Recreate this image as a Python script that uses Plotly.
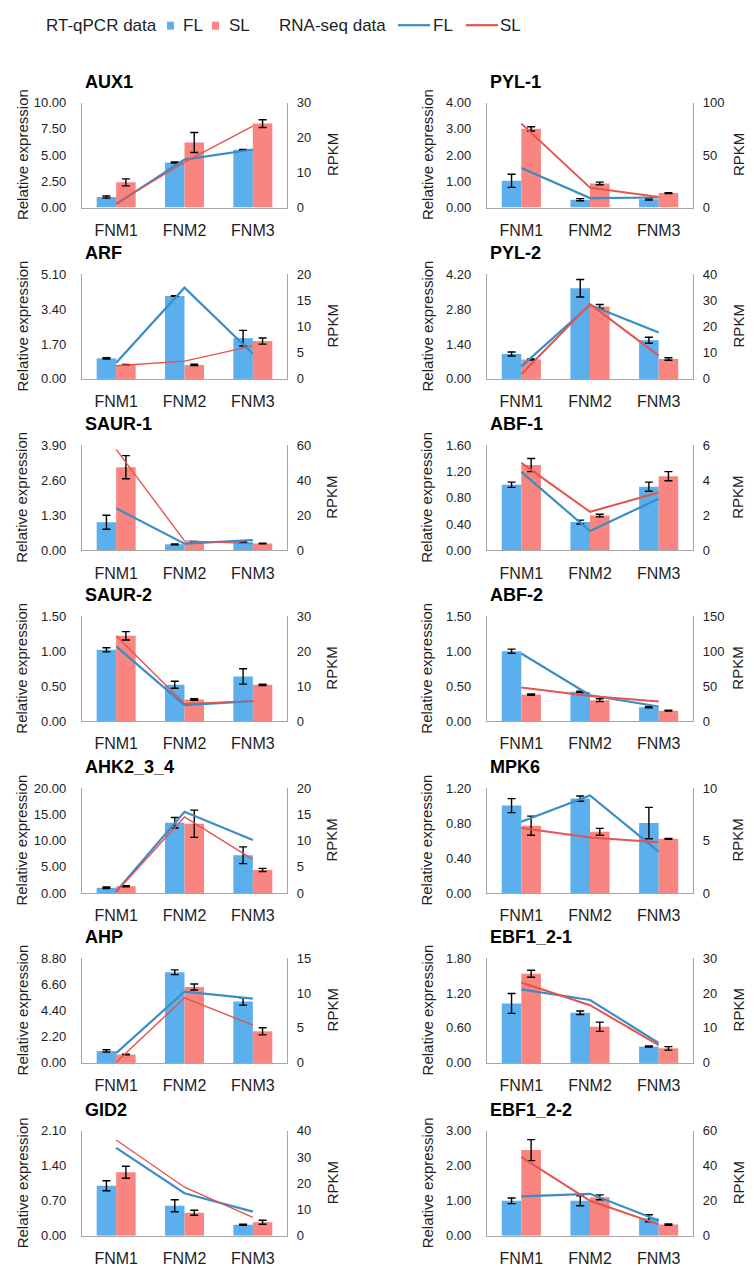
import plotly.graph_objects as go

W, H = 754, 1277

stages = ["FNM1", "FNM2", "FNM3"]
genes = ["AUX1", "PYL-1", "ARF", "PYL-2", "SAUR-1", "ABF-1", "SAUR-2", "ABF-2",
         "AHK2_3_4", "MPK6", "AHP", "EBF1_2-1", "GID2", "EBF1_2-2"]

# RT-qPCR relative expression (bars)
fl_expr = [[1.0, 4.3, 5.5], [1.02, 0.3, 0.32], [1.0, 4.03, 1.98], [1.0, 3.63, 1.55],
           [1.04, 0.22, 0.3], [1.0, 0.43, 0.97], [1.02, 0.52, 0.64], [1.0, 0.42, 0.2],
           [1.0, 13.4, 7.2], [1.0, 1.08, 0.8], [1.0, 7.6, 5.15], [1.02, 0.86, 0.28],
           [1.0, 0.6, 0.22], [1.0, 1.0, 0.5]]
fl_err = [[0.1, 0.05, 0.04], [0.25, 0.04, 0.03], [0.03, 0.02, 0.38], [0.08, 0.35, 0.12],
          [0.26, 0.02, 0.02], [0.04, 0.03, 0.07], [0.03, 0.05, 0.11], [0.03, 0.01, 0.01],
          [0.15, 1.0, 1.6], [0.08, 0.03, 0.18], [0.1, 0.2, 0.3], [0.17, 0.03, 0.01],
          [0.1, 0.12, 0.01], [0.08, 0.14, 0.1]]
sl_expr = [[2.4, 6.2, 8.0], [3.0, 0.92, 0.55], [0.68, 0.68, 1.84], [0.78, 2.9, 0.8],
           [3.09, 0.31, 0.25], [1.3, 0.53, 1.13], [1.22, 0.31, 0.52], [0.38, 0.3, 0.15],
           [1.3, 13.2, 4.4], [0.77, 0.7, 0.62], [0.7, 6.37, 2.65], [1.53, 0.62, 0.25],
           [1.27, 0.46, 0.27], [2.45, 1.1, 0.32]]
sl_err = [[0.33, 0.95, 0.37], [0.08, 0.05, 0.02], [0.02, 0.03, 0.15], [0.02, 0.08, 0.05],
          [0.43, 0.02, 0.01], [0.1, 0.02, 0.07], [0.06, 0.01, 0.01], [0.01, 0.02, 0.005],
          [0.1, 2.6, 0.3], [0.11, 0.04, 0.005], [0.03, 0.25, 0.3], [0.06, 0.08, 0.03],
          [0.12, 0.05, 0.04], [0.3, 0.07, 0.02]]

# RNA-seq RPKM (lines)
fl_rpkm = [[1.0, 13.7, 16.6], [37.7, 9.0, 9.6], [3.1, 17.4, 4.8], [4.8, 28.2, 17.7],
           [24.0, 3.8, 5.8], [4.48, 1.1, 2.95], [21.4, 4.6, 5.7], [96.7, 37.0, 21.0],
           [0.3, 15.5, 10.1], [6.8, 9.3, 3.95], [1.4, 10.2, 9.2], [21.0, 18.0, 5.7],
           [33.5, 16.2, 9.2], [22.5, 24.0, 8.7]]
sl_rpkm = [[1.2, 13.0, 23.3], [80.0, 19.0, 10.0], [2.5, 3.4, 6.3], [1.8, 28.5, 8.9],
           [57.7, 5.4, 3.8], [5.0, 2.2, 3.3], [24.4, 5.0, 5.8], [48.0, 36.0, 28.0],
           [0.2, 14.5, 6.4], [6.2, 5.3, 4.85], [0.1, 9.3, 5.4], [23.0, 16.5, 5.1],
           [36.5, 18.5, 7.0], [45.0, 20.0, 6.5]]

# axis scales / tick labels
left_max = [10, 4, 5.1, 4.2, 3.9, 1.6, 1.5, 1.5, 20, 1.2, 8.8, 1.8, 2.1, 3]
left_step = [2.5, 1, 1.7, 1.4, 1.3, 0.4, 0.5, 0.5, 5, 0.4, 2.2, 0.6, 0.7, 1]
right_max = [30, 100, 20, 40, 60, 6, 30, 150, 20, 10, 15, 30, 40, 60]
right_step = [10, 50, 5, 10, 20, 2, 10, 50, 5, 5, 5, 10, 10, 20]

BLUE_BAR = "#5aafec"
RED_BAR = "#f8857f"
BLUE_LINE = "#3a8dc5"
RED_LINE = "#e5544d"
GRAY = "#a6a6a6"
TXT = "#1e1e1e"
FONT = "Liberation Sans, Arial, sans-serif"

# page-pixel -> paper helpers (small vertical correction for how the page is photographed)
VS, VO = 0.989, 6.3
def px_x(p):
    return p / W
def px_y(p):
    return 1 - ((p - VO) / VS) / H

col_x = [(82, 287), (487, 693)]
row_top = [102, 273.5, 445, 616, 788, 958, 1131]
PH = 105

fig = go.Figure()
layout = dict(width=W, height=H, autosize=False, margin=dict(l=0, r=0, t=0, b=0),
              paper_bgcolor="white", plot_bgcolor="white", showlegend=False,
              barmode="group", bargap=0.43, bargroupgap=0,
              font=dict(family=FONT, color=TXT))
annotations = []
shapes = []

for k, gene in enumerate(genes):
    r, c = divmod(k, 2)
    x0, x1 = col_x[c]
    top = row_top[r]
    bot = top + PH
    xa, ya, yb = f"x{k+1}", f"y{k+1}", f"y{k+15}"
    red_w = 1.4 if c == 0 else 2.0

    fig.add_trace(go.Bar(x=stages, y=fl_expr[k], xaxis=xa, yaxis=ya, marker_color=BLUE_BAR,
                         marker_line_width=0, name="FL",
                         error_y=dict(type="data", array=fl_err[k], color="black",
                                      thickness=1.4, width=4)))
    fig.add_trace(go.Bar(x=stages, y=sl_expr[k], xaxis=xa, yaxis=ya, marker_color=RED_BAR,
                         marker_line_width=0, name="SL",
                         error_y=dict(type="data", array=sl_err[k], color="black",
                                      thickness=1.4, width=4)))
    fig.add_trace(go.Scatter(x=stages, y=fl_rpkm[k], xaxis=xa, yaxis=yb, mode="lines",
                             line=dict(color=BLUE_LINE, width=2.2), name="FL"))
    fig.add_trace(go.Scatter(x=stages, y=sl_rpkm[k], xaxis=xa, yaxis=yb, mode="lines",
                             line=dict(color=RED_LINE, width=red_w), name="SL"))

    layout[f"xaxis{k+1}"] = dict(domain=[px_x(x0), px_x(x1)], anchor=ya, type="category",
                                 showline=True, linecolor=GRAY, linewidth=1.2, ticks="",
                                 showgrid=False, zeroline=False, ticklabelstandoff=8,
                                 tickfont=dict(size=16, color=TXT, family=FONT), fixedrange=True)
    layout[f"yaxis{k+1}"] = dict(domain=[px_y(bot), px_y(top)], anchor=xa,
                                 range=[0, left_max[k]], tick0=0, dtick=left_step[k],
                                 tickformat=".2f", showline=True, linecolor=GRAY, linewidth=1.2,
                                 showgrid=False, zeroline=False, ticks="", ticklabelstandoff=12,
                                 tickfont=dict(size=13, color=TXT, family=FONT), fixedrange=True)
    layout[f"yaxis{k+15}"] = dict(overlaying=ya, side="right", anchor=xa,
                                  range=[0, right_max[k]], tick0=0, dtick=right_step[k],
                                  showline=True, linecolor=GRAY, linewidth=1.2,
                                  showgrid=False, zeroline=False, ticks="", ticklabelstandoff=6,
                                  tickfont=dict(size=13, color=TXT, family=FONT), fixedrange=True)

    annotations.append(dict(text=f"<b>{gene}</b>", x=px_x(x0 + 1), y=px_y(top - 21),
                            xref="paper", yref="paper", xanchor="left", yanchor="middle",
                            showarrow=False, font=dict(size=18, color="black", family=FONT)))
    mid = px_y(top + PH / 2)
    annotations.append(dict(text="Relative expression", x=px_x(x0 - 60), y=mid,
                            xref="paper", yref="paper", xanchor="center", yanchor="middle",
                            textangle=-90, showarrow=False,
                            font=dict(size=15, color=TXT, family=FONT)))
    annotations.append(dict(text="RPKM", x=px_x(x1 + 45), y=mid,
                            xref="paper", yref="paper", xanchor="center", yanchor="middle",
                            textangle=-90, showarrow=False,
                            font=dict(size=15, color=TXT, family=FONT)))

# top legend
LY = 25
def leg_text(t, xpx):
    annotations.append(dict(text=t, x=px_x(xpx), y=px_y(LY), xref="paper", yref="paper",
                            xanchor="left", yanchor="middle", showarrow=False,
                            font=dict(size=17, color=TXT, family=FONT)))

leg_text("RT-qPCR data", 44)
leg_text("FL", 181)
leg_text("SL", 227)
leg_text("RNA-seq data", 277)
leg_text("FL", 431)
leg_text("SL", 498)
shapes.append(dict(type="rect", xref="paper", yref="paper", x0=px_x(167), x1=px_x(174),
                   y0=px_y(29), y1=px_y(21), fillcolor=BLUE_BAR, line=dict(width=0)))
shapes.append(dict(type="rect", xref="paper", yref="paper", x0=px_x(212), x1=px_x(219),
                   y0=px_y(29), y1=px_y(21), fillcolor=RED_BAR, line=dict(width=0)))
shapes.append(dict(type="line", xref="paper", yref="paper", x0=px_x(398), x1=px_x(430),
                   y0=px_y(24.5), y1=px_y(24.5), line=dict(color=BLUE_LINE, width=2.2)))
shapes.append(dict(type="line", xref="paper", yref="paper", x0=px_x(466), x1=px_x(498),
                   y0=px_y(24.5), y1=px_y(24.5), line=dict(color=RED_LINE, width=2.2)))

layout["annotations"] = annotations
layout["shapes"] = shapes
fig.update_layout(**layout)
fig.write_html("out.html", config={"displayModeBar": False},
               post_script="document.body.style.margin='0';document.body.style.overflow='hidden';")
